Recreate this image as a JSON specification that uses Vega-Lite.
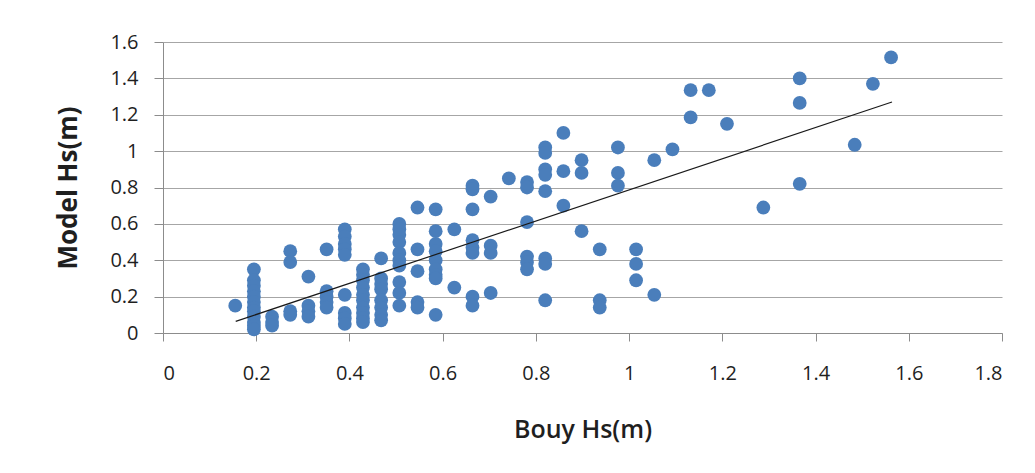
{
  "$schema": "https://vega.github.io/schema/vega-lite/v6.json",
  "width": 839,
  "height": 291,
  "autosize": {"type": "none"},
  "padding": {"left": 163, "top": 42, "right": 33, "bottom": 140},
  "background": "white",
  "config": {
    "view": {"stroke": null},
    "font": "Open Sans",
    "axis": {"labelColor": "#1f1f1f", "titleColor": "#1f1f1f", "labelFont": "Open Sans", "titleFont": "Open Sans", "labelOverlap": false}
  },
  "datasets": {
    "points": [
      {"buoy": 0.155, "model": 0.15},
      {"buoy": 0.195, "model": 0.35}, {"buoy": 0.195, "model": 0.29}, {"buoy": 0.195, "model": 0.26}, {"buoy": 0.195, "model": 0.23}, {"buoy": 0.195, "model": 0.20}, {"buoy": 0.195, "model": 0.17}, {"buoy": 0.195, "model": 0.14}, {"buoy": 0.195, "model": 0.12}, {"buoy": 0.195, "model": 0.09}, {"buoy": 0.195, "model": 0.06}, {"buoy": 0.195, "model": 0.04}, {"buoy": 0.195, "model": 0.02},
      {"buoy": 0.234, "model": 0.09}, {"buoy": 0.234, "model": 0.06}, {"buoy": 0.234, "model": 0.04},
      {"buoy": 0.273, "model": 0.45}, {"buoy": 0.273, "model": 0.39}, {"buoy": 0.273, "model": 0.12}, {"buoy": 0.273, "model": 0.10},
      {"buoy": 0.312, "model": 0.31}, {"buoy": 0.312, "model": 0.15}, {"buoy": 0.312, "model": 0.12}, {"buoy": 0.312, "model": 0.09},
      {"buoy": 0.351, "model": 0.46}, {"buoy": 0.351, "model": 0.23}, {"buoy": 0.351, "model": 0.20}, {"buoy": 0.351, "model": 0.17}, {"buoy": 0.351, "model": 0.14},
      {"buoy": 0.39, "model": 0.57}, {"buoy": 0.39, "model": 0.53}, {"buoy": 0.39, "model": 0.49}, {"buoy": 0.39, "model": 0.46}, {"buoy": 0.39, "model": 0.43}, {"buoy": 0.39, "model": 0.21}, {"buoy": 0.39, "model": 0.11}, {"buoy": 0.39, "model": 0.08}, {"buoy": 0.39, "model": 0.05},
      {"buoy": 0.429, "model": 0.35}, {"buoy": 0.429, "model": 0.32}, {"buoy": 0.429, "model": 0.29}, {"buoy": 0.429, "model": 0.25}, {"buoy": 0.429, "model": 0.21}, {"buoy": 0.429, "model": 0.18}, {"buoy": 0.429, "model": 0.14}, {"buoy": 0.429, "model": 0.11}, {"buoy": 0.429, "model": 0.08}, {"buoy": 0.429, "model": 0.06},
      {"buoy": 0.468, "model": 0.41}, {"buoy": 0.468, "model": 0.30}, {"buoy": 0.468, "model": 0.27}, {"buoy": 0.468, "model": 0.24}, {"buoy": 0.468, "model": 0.18}, {"buoy": 0.468, "model": 0.14}, {"buoy": 0.468, "model": 0.10}, {"buoy": 0.468, "model": 0.07},
      {"buoy": 0.507, "model": 0.60}, {"buoy": 0.507, "model": 0.57}, {"buoy": 0.507, "model": 0.54}, {"buoy": 0.507, "model": 0.50}, {"buoy": 0.507, "model": 0.44}, {"buoy": 0.507, "model": 0.40}, {"buoy": 0.507, "model": 0.37}, {"buoy": 0.507, "model": 0.28}, {"buoy": 0.507, "model": 0.22}, {"buoy": 0.507, "model": 0.15},
      {"buoy": 0.546, "model": 0.69}, {"buoy": 0.546, "model": 0.46}, {"buoy": 0.546, "model": 0.34}, {"buoy": 0.546, "model": 0.17}, {"buoy": 0.546, "model": 0.14},
      {"buoy": 0.585, "model": 0.68}, {"buoy": 0.585, "model": 0.56}, {"buoy": 0.585, "model": 0.49}, {"buoy": 0.585, "model": 0.45}, {"buoy": 0.585, "model": 0.40}, {"buoy": 0.585, "model": 0.35}, {"buoy": 0.585, "model": 0.32}, {"buoy": 0.585, "model": 0.30}, {"buoy": 0.585, "model": 0.10},
      {"buoy": 0.625, "model": 0.57}, {"buoy": 0.625, "model": 0.25},
      {"buoy": 0.664, "model": 0.81}, {"buoy": 0.664, "model": 0.79}, {"buoy": 0.664, "model": 0.68}, {"buoy": 0.664, "model": 0.51}, {"buoy": 0.664, "model": 0.47}, {"buoy": 0.664, "model": 0.44}, {"buoy": 0.664, "model": 0.20}, {"buoy": 0.664, "model": 0.15},
      {"buoy": 0.703, "model": 0.75}, {"buoy": 0.703, "model": 0.48}, {"buoy": 0.703, "model": 0.44}, {"buoy": 0.703, "model": 0.22},
      {"buoy": 0.742, "model": 0.85},
      {"buoy": 0.781, "model": 0.83}, {"buoy": 0.781, "model": 0.80}, {"buoy": 0.781, "model": 0.61}, {"buoy": 0.781, "model": 0.42}, {"buoy": 0.781, "model": 0.39}, {"buoy": 0.781, "model": 0.35},
      {"buoy": 0.82, "model": 1.02}, {"buoy": 0.82, "model": 0.99}, {"buoy": 0.82, "model": 0.90}, {"buoy": 0.82, "model": 0.87}, {"buoy": 0.82, "model": 0.78}, {"buoy": 0.82, "model": 0.41}, {"buoy": 0.82, "model": 0.38}, {"buoy": 0.82, "model": 0.18},
      {"buoy": 0.859, "model": 1.10}, {"buoy": 0.859, "model": 0.89}, {"buoy": 0.859, "model": 0.70},
      {"buoy": 0.898, "model": 0.95}, {"buoy": 0.898, "model": 0.88}, {"buoy": 0.898, "model": 0.56},
      {"buoy": 0.937, "model": 0.46}, {"buoy": 0.937, "model": 0.18}, {"buoy": 0.937, "model": 0.14},
      {"buoy": 0.976, "model": 1.02}, {"buoy": 0.976, "model": 0.88}, {"buoy": 0.976, "model": 0.81},
      {"buoy": 1.015, "model": 0.46}, {"buoy": 1.015, "model": 0.38}, {"buoy": 1.015, "model": 0.29},
      {"buoy": 1.054, "model": 0.95}, {"buoy": 1.054, "model": 0.21},
      {"buoy": 1.093, "model": 1.01},
      {"buoy": 1.132, "model": 1.335}, {"buoy": 1.132, "model": 1.185},
      {"buoy": 1.171, "model": 1.335},
      {"buoy": 1.21, "model": 1.15},
      {"buoy": 1.288, "model": 0.69},
      {"buoy": 1.366, "model": 1.40}, {"buoy": 1.366, "model": 1.265}, {"buoy": 1.366, "model": 0.82},
      {"buoy": 1.484, "model": 1.035},
      {"buoy": 1.523, "model": 1.37},
      {"buoy": 1.562, "model": 1.515}
    ],
    "trend": [
      {"buoy": 0.156, "model": 0.064},
      {"buoy": 1.564, "model": 1.27}
    ]
  },
  "encoding": {
    "x": {
      "field": "buoy", "type": "quantitative",
      "scale": {"domain": [0, 1.8], "nice": false, "zero": true},
      "axis": {
        "title": "Bouy Hs(m)", "values": [0, 0.2, 0.4, 0.6, 0.8, 1, 1.2, 1.4, 1.6, 1.8], "format": ".1~f",
        "grid": false, "domainColor": "#8c8c8c", "tickColor": "#8c8c8c", "tickSize": 8,
        "labelPadding": 22, "labelFontSize": 20, "titleFontSize": 25, "titleFontWeight": 600, "titlePadding": 34
      }
    },
    "y": {
      "field": "model", "type": "quantitative",
      "scale": {"domain": [0, 1.6], "nice": false, "zero": true},
      "axis": {
        "title": "Model Hs(m)", "values": [0, 0.2, 0.4, 0.6, 0.8, 1, 1.2, 1.4, 1.6], "format": ".1~f",
        "grid": true, "gridColor": "#a6a6a6", "gridWidth": 1, "domainColor": "#8c8c8c", "tickColor": "#8c8c8c", "tickSize": 9,
        "labelPadding": 16, "labelFontSize": 20, "titleFontSize": 26, "titleFontWeight": "bold", "titlePadding": 28
      }
    }
  },
  "layer": [
    {
      "data": {"name": "points"},
      "mark": {"type": "point", "filled": true, "shape": "circle", "size": 190, "color": "#4A7EBB", "opacity": 1}
    },
    {
      "data": {"name": "trend"},
      "mark": {"type": "line", "color": "#1a1a1a", "strokeWidth": 1.2}
    }
  ]
}
